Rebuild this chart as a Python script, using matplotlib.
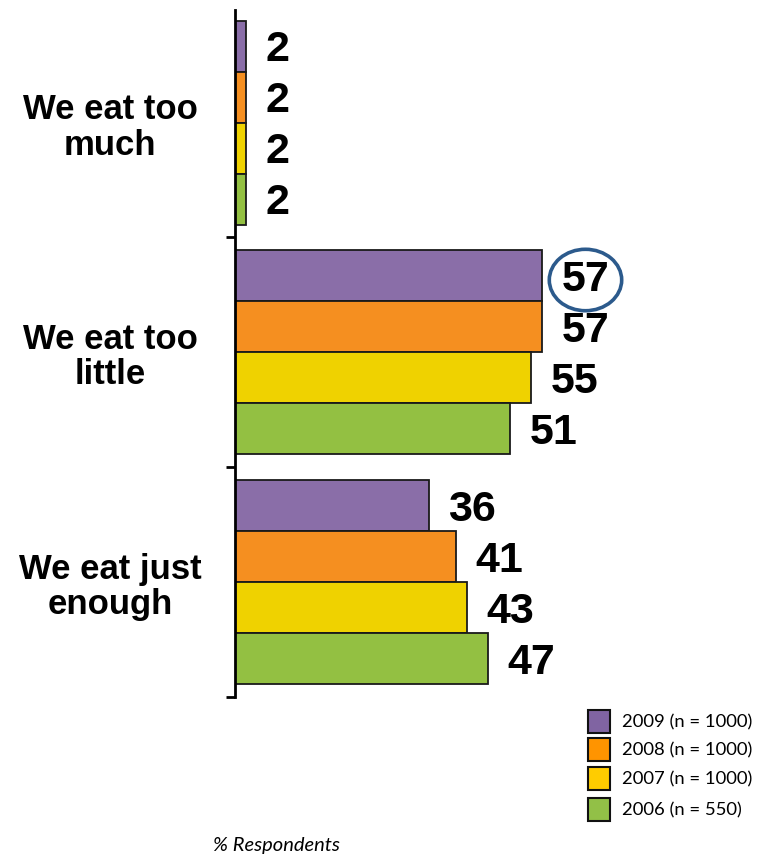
import matplotlib
matplotlib.use("Agg")
from matplotlib import pyplot as plt
from matplotlib.patches import Rectangle
import numpy as np

# data
categories = ["We eat too\nmuch", "We eat too\nlittle", "We eat just\nenough"]
series_names = ["2009 (n = 1000)", "2008 (n = 1000)", "2007 (n = 1000)", "2006 (n = 550)"]
v2009 = [2, 57, 36]
v2008 = [2, 57, 41]
v2007 = [2, 55, 43]
v2006 = [2, 51, 47]

bar_colors = ["#8a6ea8", "#f58f20", "#efd200", "#93c042"]
legend_colors = ["#8064a2", "#ff9400", "#ffcc00", "#92c047"]

W, H = 757, 856
fig = plt.figure(figsize=(W / 100, H / 100), dpi=100)
ax = fig.add_axes([235 / W, 1 - 697 / H, 485 / W, (697 - 10) / H])

y = np.arange(len(categories))
bh = 0.222
all_vals = [v2009, v2008, v2007, v2006]
label_font = dict(family=["Liberation Sans", "DejaVu Sans"], fontweight="bold", fontsize=31)

for i, (vals, col) in enumerate(zip(all_vals, bar_colors)):
    pos = y - 1.5 * bh + i * bh
    ax.barh(pos, vals, height=bh, color=col, edgecolor="#1a1a1a", linewidth=1.3)
    for p, v in zip(pos, vals):
        kw = {}
        # highlight the 2009 "too little" value
        if i == 0 and v == max(v2009):
            kw["bbox"] = dict(boxstyle="ellipse,pad=0.04", fc="none", ec="#2c5a8c", lw=2.6)
        ax.annotate(str(v), (v, p), xytext=(14, -3), textcoords="offset points",
                    ha="left", va="center", **label_font, **kw)

ax.set_xlim(0, 90)
ax.set_ylim(2.5, -0.49)

# group separators as major ticks, category names as minor ticks
ax.set_yticks([0.5, 1.5, 2.5])
ax.set_yticklabels([])
ax.tick_params(axis="y", which="major", length=6.5, width=2, direction="out")
ax.set_yticks(y, categories, minor=True)
ax.tick_params(axis="y", which="minor", length=0, pad=90)
for t in ax.get_yticklabels(minor=True):
    t.set_ha("center")
    t.set_multialignment("center")
    t.set_fontfamily(["Liberation Sans", "DejaVu Sans"])
    t.set_fontweight("bold")
    t.set_fontsize(25)
    t.set_linespacing(1.1)

ax.set_xticks([])
for s in ["top", "right", "bottom"]:
    ax.spines[s].set_visible(False)
ax.spines["left"].set_linewidth(2)

# legend drawn by hand to keep the squares apart like in the original
leg_tops = [710, 738, 767, 798]
for name, col, top in zip(series_names, legend_colors, leg_tops):
    fig.add_artist(Rectangle((588 / W, 1 - (top + 23) / H), 22 / W, 23 / H,
                             transform=fig.transFigure, fc=col, ec="#111111", lw=1.5))
    fig.text(622 / W, 1 - (top + 12) / H, name, ha="left", va="center",
             fontsize=13.3, family=["Lato", "DejaVu Sans"])

fig.text(213 / W, 1 - 845 / H, "% Respondents", ha="left", va="center",
         fontsize=14.5, style="italic", family=["Lato", "DejaVu Sans"])

fig.savefig("out.png", dpi=100)
